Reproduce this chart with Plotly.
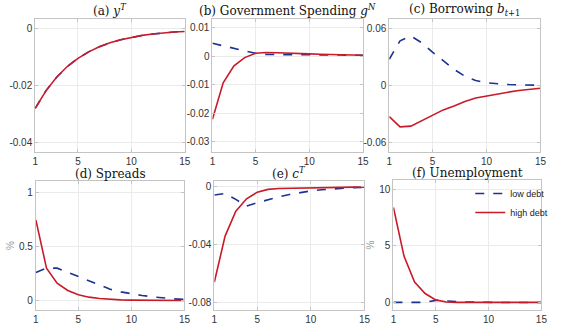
import plotly.graph_objects as go

W, H = 567, 332
t = list(range(1, 16))

yT_low = [-0.0281, -0.0219, -0.0171, -0.0133, -0.0104, -0.0081, -0.0063, -0.0049, -0.0038, -0.0030, -0.0023, -0.0018, -0.0014, -0.0011, -0.0009]
yT_high = [-0.0281, -0.0219, -0.0171, -0.0133, -0.0104, -0.0081, -0.0063, -0.0049, -0.0038, -0.0030, -0.0023, -0.0018, -0.0014, -0.0011, -0.0009]

gN_low = [0.0045, 0.0036, 0.0027, 0.0019, 0.0010, 0.0006, 0.0006, 0.0006, 0.0006, 0.0005, 0.0005, 0.0004, 0.0004, 0.0003, 0.0003]
gN_high = [-0.0221, -0.0093, -0.0034, -0.0005, 0.0010, 0.0013, 0.0012, 0.0010, 0.0009, 0.0008, 0.0007, 0.0006, 0.0005, 0.0004, 0.0003]

b_low = [0.0275, 0.0470, 0.0520, 0.0450, 0.0350, 0.0257, 0.0168, 0.0096, 0.0050, 0.0026, 0.0015, 0.0008, 0.0004, 0.0002, 0.0001]
b_high = [-0.0332, -0.0439, -0.0432, -0.0375, -0.0314, -0.0260, -0.0218, -0.0171, -0.0135, -0.0114, -0.0086, -0.0073, -0.0055, -0.0044, -0.0032]

spr_low = [0.26, 0.30, 0.30, 0.26, 0.22, 0.18, 0.14, 0.105, 0.08, 0.062, 0.047, 0.034, 0.022, 0.015, 0.010]
spr_high = [0.745, 0.30, 0.16, 0.093, 0.053, 0.031, 0.018, 0.010, 0.006, 0.004, 0.003, 0.002, 0.001, 0.001, 0.0]

cT_low = [-0.0057, -0.0046, -0.0087, -0.0133, -0.0110, -0.0087, -0.0069, -0.0053, -0.0039, -0.0028, -0.0020, -0.0014, -0.0009, -0.0006, -0.0004]
cT_high = [-0.0657, -0.0340, -0.0168, -0.0083, -0.0037, -0.0018, -0.0012, -0.0010, -0.0008, -0.0006, -0.0005, -0.0004, -0.0003, -0.0002, -0.0002]

u_low = [0.02, 0.02, 0.02, 0.02, 0.20, 0.18, 0.10, 0.05, 0.02, 0.01, 0.01, 0.01, 0.01, 0.01, 0.01]
u_high = [8.38, 4.10, 1.82, 0.80, 0.24, 0.06, 0.02, 0.02, 0.02, 0.02, 0.02, 0.02, 0.02, 0.02, 0.02]

titles = ["(a) <i>y</i><sup><i>T</i></sup>",
          "(b) Government Spending <i>g</i><sup><i>N</i></sup>",
          "(c) Borrowing <i>b</i><sub><i>t</i>+1</sub>",
          "(d) Spreads",
          "(e) <i>c</i><sup><i>T</i></sup>",
          "(f) Unemployment"]

panels = [
    (yT_low, yT_high, [-0.0435, 0.0035], [0, -0.02, -0.04], ["0", "-0.02", "-0.04"], ""),
    (gN_low, gN_high, [-0.0335, 0.013], [0.01, 0, -0.01, -0.02, -0.03], ["0.01", "0", "-0.01", "-0.02", "-0.03"], ""),
    (b_low, b_high, [-0.0705, 0.07], [0.06, 0, -0.06], ["0.06", "0", "-0.06"], ""),
    (spr_low, spr_high, [-0.088, 1.108], [1, 0.5, 0], ["1", "0.5", "0"], "%"),
    (cT_low, cT_high, [-0.085, 0.004], [0, -0.04, -0.08], ["0", "-0.04", "-0.08"], ""),
    (u_low, u_high, [-0.65, 10.8], [10, 5, 0], ["10", "5", "0"], "%"),
]

# pixel boxes: (x0, x1, ytop, ybottom)
boxes = [(22, 177, 19, 152), (205.7, 361.7, 19, 152), (389, 545.7, 19, 152),
         (22.7, 176.7, 181, 310), (207.7, 363.3, 181, 310), (393.3, 546.7, 180, 310)]
title_bottom = [19, 19, 19, 182, 182, 181]

BLUE = "#1c3391"
RED = "#c81a28"

fig = go.Figure()
layout = dict(width=W, height=H, margin=dict(l=0, r=0, t=0, b=0),
              paper_bgcolor="white", plot_bgcolor="white", showlegend=True,
              font=dict(family="Liberation Sans, Arial, sans-serif", size=10, color="#333333"))
annotations = []
for i, (lo, hi, yr, tv, tt, ylab) in enumerate(panels):
    k = i + 1
    xa = "x" if k == 1 else f"x{k}"
    ya = "y" if k == 1 else f"y{k}"
    fig.add_trace(go.Scatter(x=t, y=lo, xaxis=xa, yaxis=ya, mode="lines", name="low debt",
                             line=dict(color=BLUE, width=1.6, dash="dash"), showlegend=(k == 6)))
    fig.add_trace(go.Scatter(x=t, y=hi, xaxis=xa, yaxis=ya, mode="lines", name="high debt",
                             line=dict(color=RED, width=1.6), showlegend=(k == 6)))
    x0, x1, yt, yb = boxes[i]
    axcommon = dict(showgrid=True, gridcolor="#ebebeb", gridwidth=1, zeroline=False,
                    showline=True, linecolor="#c4c4c4", linewidth=1, mirror="ticks",
                    ticks="inside", ticklen=3, tickcolor="#c4c4c4",
                    tickfont=dict(family="Liberation Sans, Arial, sans-serif", size=10, color="#333333"))
    layout["xaxis" if k == 1 else f"xaxis{k}"] = dict(
        domain=[x0 / W, x1 / W], range=[1, 15], tickvals=[1, 5, 10, 15],
        anchor=ya, **axcommon)
    layout["yaxis" if k == 1 else f"yaxis{k}"] = dict(
        domain=[1 - yb / H, 1 - yt / H], range=yr, tickvals=tv, ticktext=tt,
        anchor=xa, title=dict(text=ylab, font=dict(size=10, color="#999999"), standoff=2), **axcommon)
    annotations.append(dict(text=titles[i], x=(x0 + x1) / 2 / W, y=1 - title_bottom[i] / H,
                            xref="paper", yref="paper", xanchor="center", yanchor="bottom",
                            showarrow=False, borderpad=0,
                            font=dict(family="DejaVu Serif, Liberation Serif, serif", size=12, color="#111111")))

layout["annotations"] = annotations
layout["legend"] = dict(x=559 / W, y=1 - 179 / H, xanchor="right", yanchor="top",
                        bgcolor="rgba(255,255,255,0)", borderwidth=0,
                        font=dict(family="Liberation Sans, Arial, sans-serif", size=9, color="#222222"),
                        tracegroupgap=0, itemwidth=30)
fig.update_layout(**layout)
fig.write_html("out.html")
